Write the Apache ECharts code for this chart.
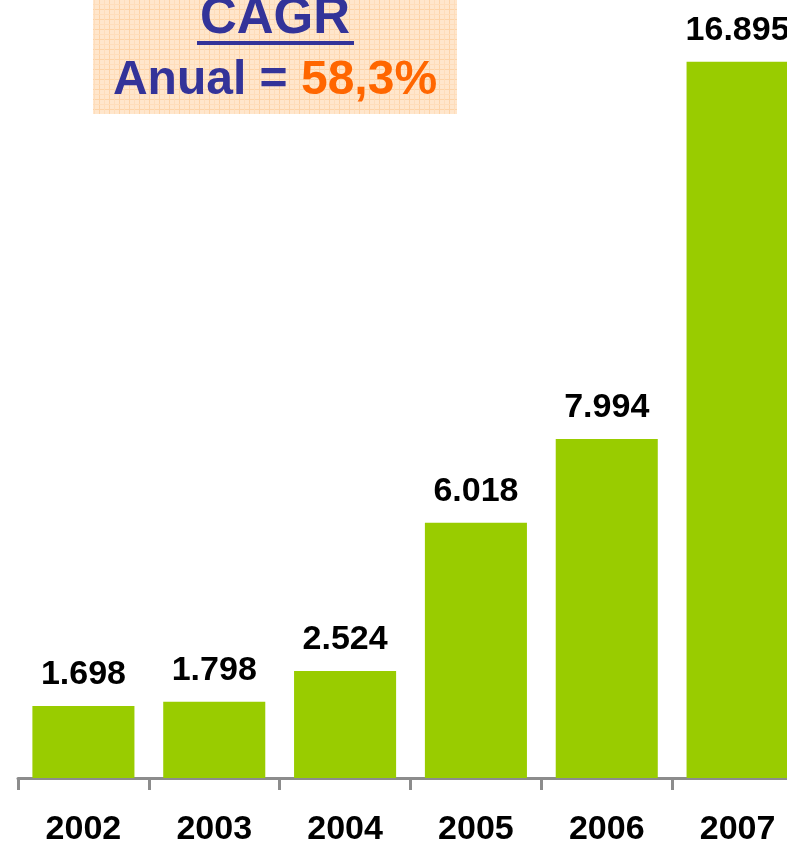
<!DOCTYPE html>
<html><head><meta charset="utf-8">
<script src="https://cdn.jsdelivr.net/npm/echarts@6/dist/echarts.min.js"></script>
<style>html,body{margin:0;padding:0;background:#fff}#c{width:787px;height:847px}</style>
</head><body><div id="c"></div>
<script>
const categories = ['2002','2003','2004','2005','2006','2007'];
const values = [1698, 1798, 2524, 6018, 7994, 16895];
const valueLabels = ['1.698','1.798','2.524','6.018','7.994','16.895'];
const titleLine1 = 'CAGR';
const titleLine2a = 'Anual = ';
const titleLine2b = '58,3%';

// grid pattern for title box
const pc = document.createElement('canvas');
pc.width = 10; pc.height = 10;
const g = pc.getContext('2d');
g.fillStyle = '#FFE6CC'; g.fillRect(0,0,10,10);
g.fillStyle = '#FCD3A8'; g.fillRect(0,9,10,1); g.fillRect(9,0,1,10);
g.fillStyle = '#FEDDBB'; g.fillRect(0,4,10,1); g.fillRect(4,0,1,10);

const chart = echarts.init(document.getElementById('c'));
chart.setOption({
  animation: false,
  grid: {left: 18, top: 57.25, width: 785, bottom: 69, containLabel: false, outerBoundsMode: 'none'},
  xAxis: {
    type: 'category', data: categories,
    axisLine: {show: true, lineStyle: {color: '#8C8C8C', width: 3}},
    axisTick: {show: true, length: 12, lineStyle: {color: '#8C8C8C', width: 3}},
    axisLabel: {color: '#000', fontSize: 34, fontWeight: 'bold', fontFamily: 'Liberation Sans', margin: 35}
  },
  yAxis: {type: 'value', min: 0, max: 17000, show: false, splitLine: {show: false}},
  series: [{
    type: 'bar', data: values, barCategoryGap: '22%',
    itemStyle: {color: '#99CC00'},
    label: {show: true, position: 'top', distance: 14, color: '#000', fontSize: 34, fontWeight: 'bold',
      fontFamily: 'Liberation Sans', formatter: p => valueLabels[p.dataIndex]}
  }],
  graphic: [
    {type: 'rect', shape: {x: 93, y: 0, width: 364, height: 114}, style: {fill: {image: pc, repeat: 'repeat'}}, z: 10},
    {type: 'text', x: 275, y: 19, z: 11, style: {text: titleLine1, font: 'bold 51px "Liberation Sans"', fill: '#333399', align: 'center', verticalAlign: 'middle'}},
    {type: 'rect', shape: {x: 197, y: 41, width: 157, height: 4}, style: {fill: '#333399'}, z: 11},
    {type: 'text', x: 275, y: 81, z: 11, style: {
      text: '{a|' + titleLine2a + '}{b|' + titleLine2b + '}',
      align: 'center', verticalAlign: 'middle',
      rich: {
        a: {font: 'bold 48px "Liberation Sans"', fill: '#333399', color: '#333399'},
        b: {font: 'bold 48px "Liberation Sans"', fill: '#FF6600', color: '#FF6600'}
      }}}
  ]
});
</script></body></html>
